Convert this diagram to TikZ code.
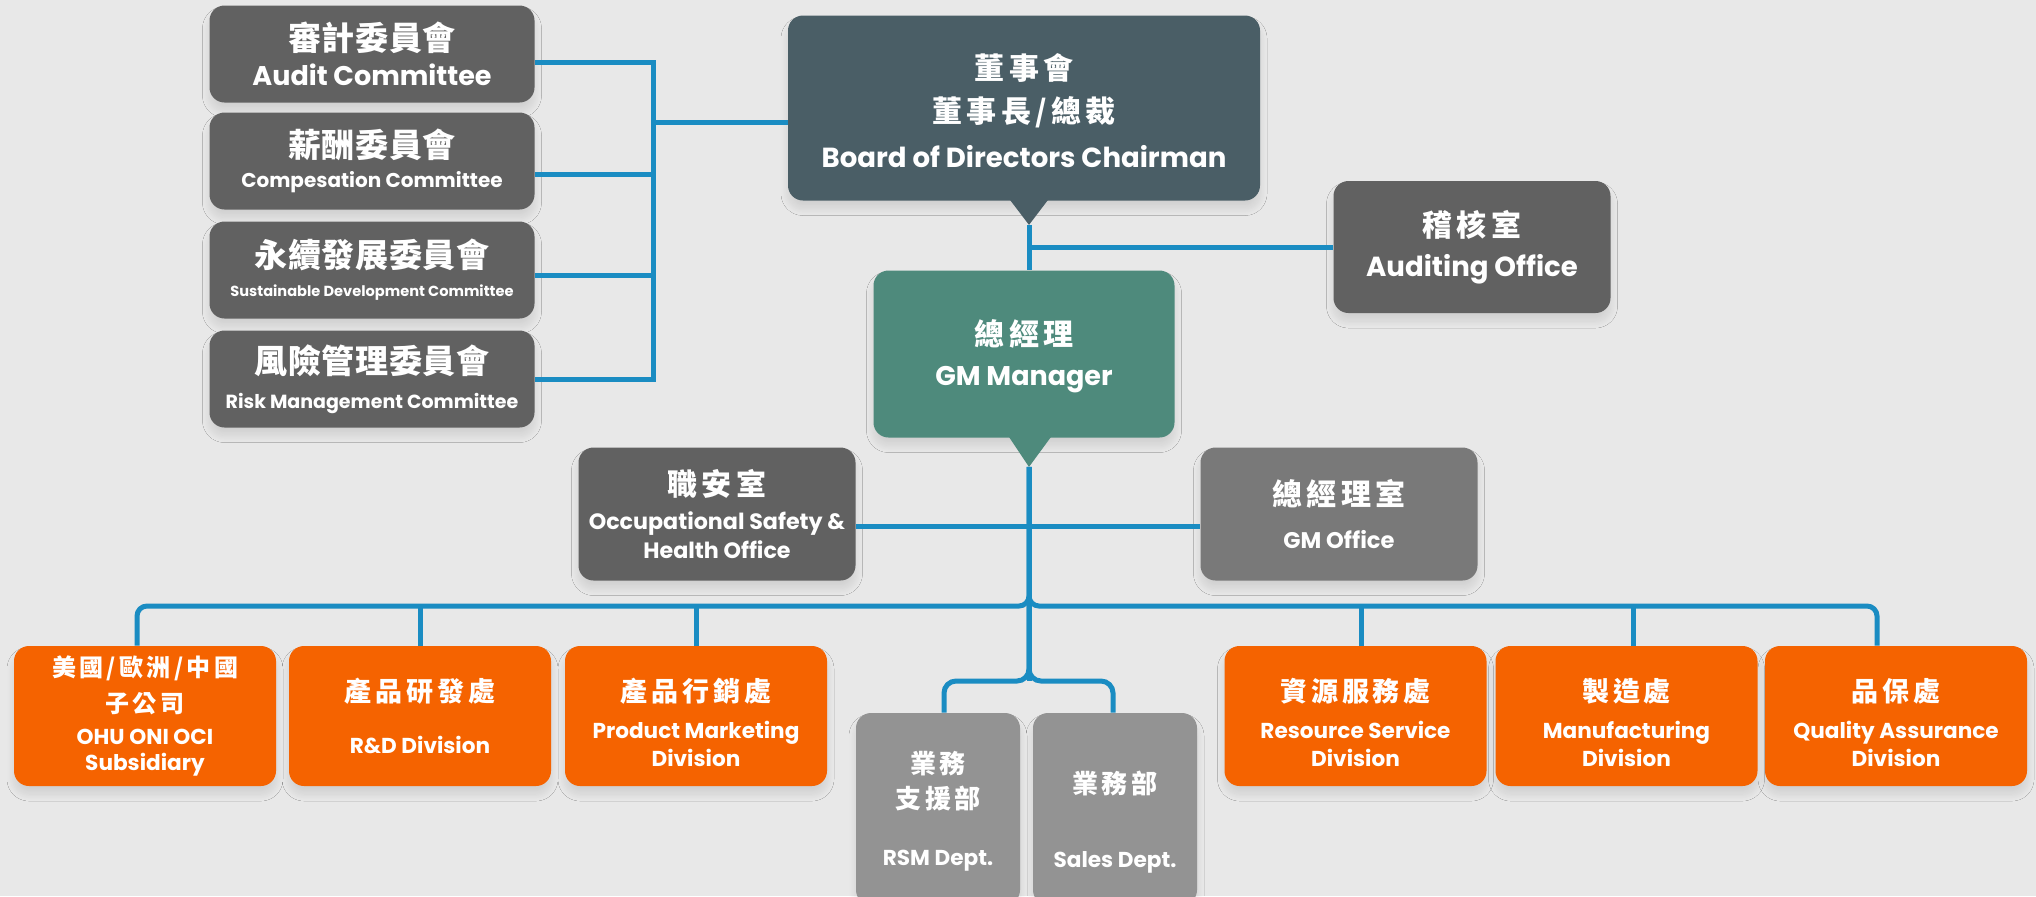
\documentclass[tikz,border=0pt]{standalone}
\usepackage{fontspec}
\setmainfont{Poppins}
\newfontfamily\cjk{Noto Sans CJK TC}[LetterSpace=2]
\newfontfamily\cjkwide{Noto Sans CJK TC}[LetterSpace=14]
\usetikzlibrary{calc, shadows.blur}

\definecolor{bgcol}{HTML}{E8E8E8}
\definecolor{darkgrey}{HTML}{616161}
\definecolor{midgrey}{HTML}{797979}
\definecolor{lightgrey}{HTML}{939393}
\definecolor{boardcol}{HTML}{4A5E66}
\definecolor{gmcol}{HTML}{4E8A7C}
\definecolor{orangebox}{HTML}{F56300}
\definecolor{linkblue}{HTML}{1A8CC2}
\definecolor{shadowblue}{HTML}{3A5A9A}

\newcommand{\zh}[2]{{\cjk\fontsize{#1}{#1}\selectfont #2}}
\newcommand{\zhw}[2]{{\cjkwide\fontsize{#1}{#1}\selectfont #2}}
\newcommand{\en}[2]{{\fontsize{#1}{#1}\selectfont #2}}

\begin{document}
\begin{tikzpicture}[
        x=0.5pt, y=-0.5pt,
        box/.style={
            rectangle, rounded corners=7.5pt, text=white, align=center, inner sep=0pt,
            blur shadow={shadow xshift=0pt, shadow yshift=-4pt, shadow blur radius=3.5pt, shadow blur steps=10, shadow opacity=10, fill=shadowblue},
          },
        lines/.style={font=\bfseries\fontsize{10}{#1}\selectfont},
        committee/.style={box, fill=darkgrey, minimum width=162.5pt, minimum height=48.5pt},
        office/.style={box, fill=#1, minimum width=138.5pt, minimum height=66.5pt},
        office/.default=darkgrey,
        division/.style={box, fill=orangebox, minimum width=131pt, minimum height=70pt},
        dept/.style={box, fill=lightgrey, minimum width=82pt, minimum height=96pt},
        link/.style={draw=linkblue, line width=2.5pt},
    ]
    \useasboundingbox (0,0) rectangle (2036,896);
    \clip (0,0) rectangle (2036,896);
    \fill[bgcol] (0,0) rectangle (2036,896);

    % committees
    \node[committee, lines=17.5pt] (audit) at (372, 54) {\zh{16.5}{審計委員會}\\ \en{13.5}{Audit Committee}};
    \node[committee, lines=15.2pt] (comp) at (372, 161) {\zh{16.5}{薪酬委員會}\\ \en{10}{Compesation Committee}};
    \node[committee, lines=14.6pt] (sust) at (372, 270) {\zh{16.5}{永續發展委員會}\\ \en{7.3}{Sustainable Development Committee}};
    \node[committee, lines=17.5pt] (risk) at (372, 379) {\zh{16.5}{風險管理委員會}\\ \en{9.5}{Risk Management Committee}};

    % top management
    \node[box, fill=boardcol, minimum width=236pt, minimum height=92.5pt, lines=21.5pt] (board) at (1024, 108)
        {\rule{0pt}{15.8pt}\zhw{15}{董事會}\\ \zhw{15}{董事長/總裁}\\[1.2pt] \en{13.8}{Board of Directors Chairman}};
    \node[office, minimum height=66pt, lines=20.2pt] (auditing) at (1472, 247) {\zhw{15}{稽核室}\\ \en{13.8}{Auditing Office}};
    \node[box, fill=gmcol, minimum width=150.5pt, minimum height=83.5pt, lines=20.2pt] (gm) at (1024, 354)
        {\rule{0pt}{15.5pt}\zhw{15}{總經理}\\ \en{13.5}{GM Manager}};
    \node[office, lines=14.5pt] (safety) at (717, 514) {\zhw{15}{職安室}\\[2.6pt] \en{11.1}{Occupational Safety \&}\\ \en{11.1}{Health Office}};
    \node[office=midgrey, lines=21.8pt] (gmoffice) at (1339, 514) {\zhw{15}{總經理室}\\ \en{11.3}{GM Office}};

    % divisions
    \node[division, lines=12.8pt] (sub) at (145, 716) {\zhw{12}{美國/歐洲/中國}\\[5pt] \zhw{12}{子公司}\\[3.2pt] \en{10.8}{OHU ONI OCI}\\ \en{10.8}{Subsidiary}};
    \node[division, lines=25.8pt] (rd) at (420, 716) {\zhw{13.5}{產品研發處}\\ \en{10.8}{R\&D Division}};
    \node[division, lines=13.8pt] (mkt) at (696, 716) {\rule{0pt}{17.9pt}\zhw{13.5}{產品行銷處}\\[4.6pt] \en{10.8}{Product Marketing}\\ \en{10.8}{Division}};
    \node[division, lines=13.8pt] (res) at (1355.5, 716) {\rule{0pt}{17.9pt}\zhw{13.5}{資源服務處}\\[4.6pt] \en{10.8}{Resource Service}\\ \en{10.8}{Division}};
    \node[division, lines=13.8pt] (mfg) at (1626.5, 716) {\rule{0pt}{17.9pt}\zhw{13.5}{製造處}\\[4.6pt] \en{10.8}{Manufacturing}\\ \en{10.8}{Division}};
    \node[division, lines=13.8pt] (qa) at (1896, 716) {\rule{0pt}{17.9pt}\zhw{13.5}{品保處}\\[4.6pt] \en{10.8}{Quality Assurance}\\ \en{10.8}{Division}};
    \node[dept, lines=13pt] (rsm) at (938, 809) {\rule{0pt}{13.4pt}\zhw{13}{業務}\\[4.5pt] \zhw{13}{支援部}\\[15.5pt] \en{10.8}{RSM Dept.}};
    \node[dept, lines=37pt] (sales) at (1115, 809) {\rule{0pt}{24.4pt}\zhw{13}{業務部}\\ \en{10.8}{Sales Dept.}};

    % pointers
    \coordinate (btip) at ($(board.south)+(5,24)$);
    \coordinate (gtip) at ($(gm.south)+(5,29)$);
    \fill[boardcol] ($(board.south)+(-14,-1)$) -- ($(board.south)+(24,-1)$) -- (btip) -- cycle;
    \fill[gmcol] ($(gm.south)+(-15,-1)$) -- ($(gm.south)+(27,-1)$) -- (gtip) -- cycle;

    % connectors
    \coordinate (spine) at (653, 379);
    \coordinate (compend) at ([yshift=-6.5pt]comp.east);
    \coordinate (sustend) at ([yshift=-2.5pt]sust.east);
    \coordinate (boardin) at ([yshift=-7pt]board.west);
    \draw[link] ([yshift=-4pt]audit.east) -| (spine) -- (risk.east);
    \draw[link] (compend) -- (compend -| spine);
    \draw[link] (sustend) -- (sustend -| spine);
    \draw[link] (boardin) -- (boardin -| spine);

    \draw[link] (btip) -- (btip |- gm.north);
    \draw[link] (auditing.west) -- (auditing.west -| btip);

    \coordinate (hub) at (1029, 606);
    \coordinate (subhub) at (1029, 681);
    \coordinate (tapsub) at (137, 606);
    \coordinate (tapres) at (1361, 606);
    \coordinate (tapmfg) at (1633, 606);
    \coordinate (tapqa) at (1877, 606);
    \coordinate (taprsm) at (944, 681);
    \coordinate (tapsales) at (1113, 681);
    \coordinate (safeline) at ([yshift=-6pt]safety.east);
    \draw[link] (gtip) -- (subhub);
    \draw[link] (safeline) -- (safeline -| gmoffice.west);
    \draw[link, rounded corners=5pt] (sub.north -| tapsub) |- (hub) -- (gtip);
    \draw[link, rounded corners=5pt] (qa.north -| tapqa) |- (hub) -- (gtip);
    \draw[link] (rd.north) -- (rd.north |- hub);
    \draw[link] (mkt.north) -- (mkt.north |- hub);
    \draw[link] (res.north -| tapres) -- (tapres);
    \draw[link] (mfg.north -| tapmfg) -- (tapmfg);
    \draw[link, rounded corners=6pt] (rsm.north -| taprsm) |- (subhub) -- (hub);
    \draw[link, rounded corners=6pt] (sales.north -| tapsales) |- (subhub) -- (hub);
\end{tikzpicture}
\end{document}
